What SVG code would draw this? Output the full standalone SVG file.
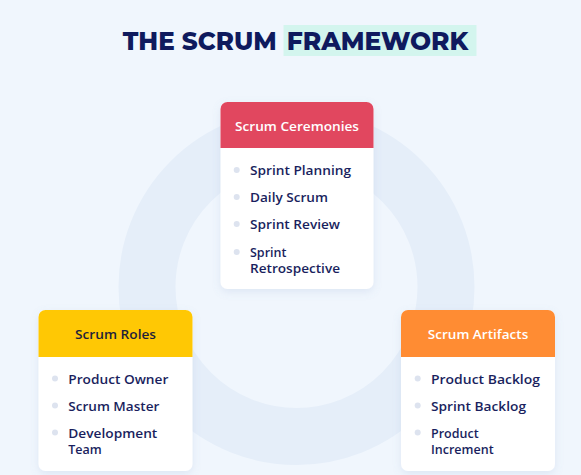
<svg xmlns="http://www.w3.org/2000/svg" width="581" height="475" viewBox="0 0 581 475">
<defs>
<style>
.title{font-family:"Montserrat","Open Sans","Liberation Sans",sans-serif;font-weight:800;font-size:25px;fill:#0f1a5e}
.head{font-family:"Open Sans","Liberation Sans",sans-serif;font-weight:600;font-size:12.5px;text-anchor:middle}
.item{font-family:"Open Sans","Liberation Sans",sans-serif;font-weight:600;font-size:12.5px;fill:#1a1f5e}
.card{fill:#ffffff;filter:url(#sh)}
.dot{fill:#dde3ef}
</style>
<filter id="sh" x="-20%" y="-20%" width="140%" height="140%">
<feDropShadow dx="0" dy="3" stdDeviation="4" flood-color="#6f8fc0" flood-opacity="0.15"/>
</filter>
</defs>
<rect width="581" height="475" fill="#f0f6fd"/>
<circle cx="296.5" cy="287" r="149.5" fill="none" stroke="#e5eef9" stroke-width="57"/>
<rect x="283.5" y="25" width="193" height="31" fill="#d3f5ee"/>
<text class="title" x="122.7" y="49.5" textLength="154" lengthAdjust="spacingAndGlyphs">THE SCRUM</text>
<text class="title" x="286.7" y="49.5" textLength="181.5" lengthAdjust="spacingAndGlyphs">FRAMEWORK</text>
<g id="connectors"></g>
<g id="ceremonies">
<rect class="card" x="220.5" y="102" width="153" height="187" rx="7"/>
<path d="M220.5,109 a7,7 0 0 1 7,-7 h139 a7,7 0 0 1 7,7 v39 h-153 z" fill="#e1475f"/>
<text class="head" x="297" y="131" fill="#ffffff" textLength="124" lengthAdjust="spacingAndGlyphs">Scrum Ceremonies</text>
<circle class="dot" cx="236.7" cy="170" r="3"/>
<circle class="dot" cx="236.7" cy="197" r="3"/>
<circle class="dot" cx="236.7" cy="224" r="3"/>
<circle class="dot" cx="236.7" cy="252" r="3"/>
<text class="item" x="250" y="175" textLength="101" lengthAdjust="spacingAndGlyphs">Sprint Planning</text>
<text class="item" x="250" y="202" textLength="78" lengthAdjust="spacingAndGlyphs">Daily Scrum</text>
<text class="item" x="250" y="229" textLength="90" lengthAdjust="spacingAndGlyphs">Sprint Review</text>
<text class="item" x="250" y="257">Sprint</text>
<text class="item" x="250" y="273" textLength="90" lengthAdjust="spacingAndGlyphs">Retrospective</text>
</g>
<g id="roles">
<rect class="card" x="38.5" y="310" width="154" height="161" rx="7"/>
<path d="M38.5,317 a7,7 0 0 1 7,-7 h140 a7,7 0 0 1 7,7 v40 h-154 z" fill="#ffc804"/>
<text class="head" x="115.5" y="339" fill="#1f1f3a" textLength="81" lengthAdjust="spacingAndGlyphs">Scrum Roles</text>
<circle class="dot" cx="55" cy="378.5" r="3"/>
<circle class="dot" cx="55" cy="405.5" r="3"/>
<circle class="dot" cx="55" cy="432.5" r="3"/>
<text class="item" x="68.3" y="383.5" textLength="100" lengthAdjust="spacingAndGlyphs">Product Owner</text>
<text class="item" x="68.3" y="410.5" textLength="91" lengthAdjust="spacingAndGlyphs">Scrum Master</text>
<text class="item" x="68.3" y="437.5" textLength="89" lengthAdjust="spacingAndGlyphs">Development</text>
<text class="item" x="68.3" y="454">Team</text>
</g>
<g id="artifacts">
<rect class="card" x="401" y="310" width="154" height="161" rx="7"/>
<path d="M401,317 a7,7 0 0 1 7,-7 h140 a7,7 0 0 1 7,7 v40 h-154 z" fill="#ff8c33"/>
<text class="head" x="478" y="339" fill="#ffffff" textLength="100.5" lengthAdjust="spacingAndGlyphs">Scrum Artifacts</text>
<circle class="dot" cx="417.7" cy="378.5" r="3"/>
<circle class="dot" cx="417.7" cy="405.5" r="3"/>
<circle class="dot" cx="417.7" cy="432.5" r="3"/>
<text class="item" x="431" y="383.5" textLength="109" lengthAdjust="spacingAndGlyphs">Product Backlog</text>
<text class="item" x="431" y="410.5" textLength="95" lengthAdjust="spacingAndGlyphs">Sprint Backlog</text>
<text class="item" x="431" y="437.5">Product</text>
<text class="item" x="431" y="454">Increment</text>
</g>
</svg>
